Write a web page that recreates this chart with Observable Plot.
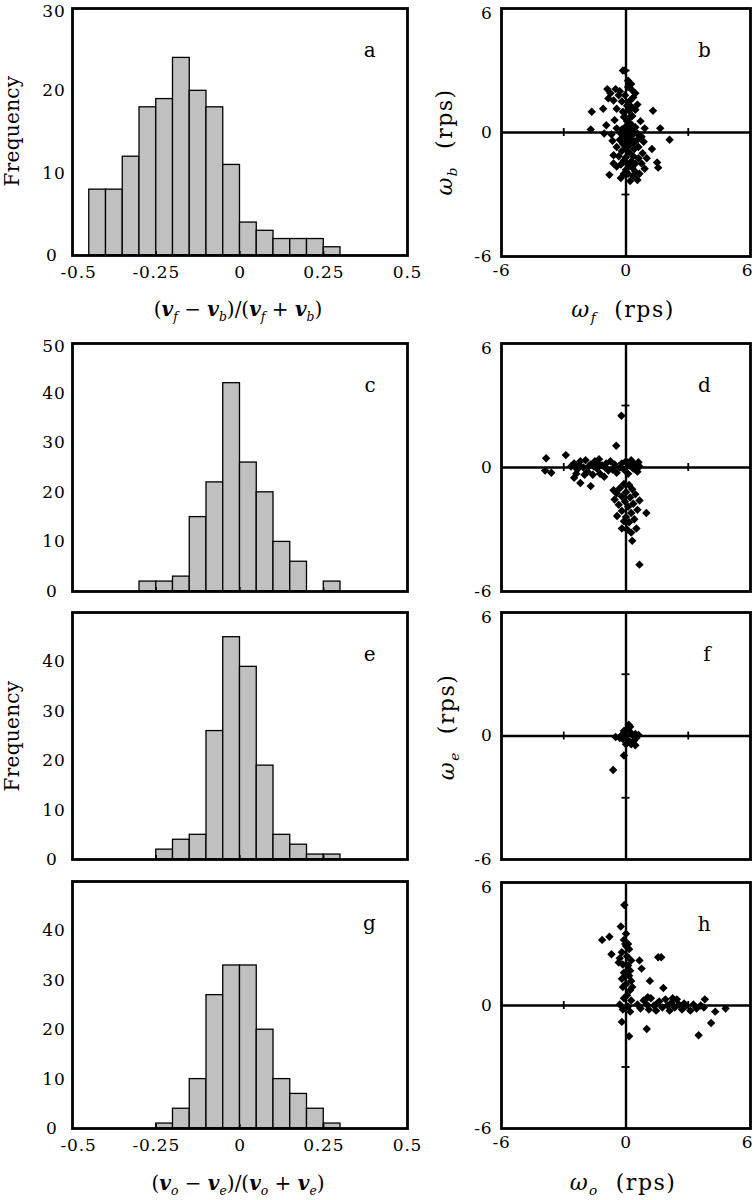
<!DOCTYPE html>
<html><head><meta charset="utf-8">
<script src="https://cdn.jsdelivr.net/npm/d3@7"></script>
<script src="https://cdn.jsdelivr.net/npm/@observablehq/plot@0.6"></script>
<style>
body{margin:0;background:#fff;}
#fig{position:relative;width:754px;height:1200px;overflow:hidden;font-family:"DejaVu Serif",serif;background:#fff;}
.lab{position:absolute;white-space:nowrap;color:#000;transform:translate(-50%,-50%);line-height:1;}
.rot{transform:translate(-50%,-50%) rotate(-90deg);}
.v{font-weight:bold;font-style:italic;}
.lab sub{font-size:0.62em;font-style:italic;vertical-align:-0.38em;line-height:0;}
</style></head><body><div id="fig"></div><script>
// ---------------- data ----------------
const binWidth = 0.05;
const histLowA = [-0.45,-0.40,-0.35,-0.30,-0.25,-0.20,-0.15,-0.10,-0.05,0.00,0.05,0.10,0.15,0.20,0.25];
const histCountA = [8,8,12,18,19,24,20,18,11,4,3,2,2,2,1];
const histLowC = [-0.30,-0.25,-0.20,-0.15,-0.10,-0.05,0.00,0.05,0.10,0.15,0.20,0.25];
const histCountC = [2,2,3,15,22,42,26,20,10,6,0,2];
const histLowE = [-0.25,-0.20,-0.15,-0.10,-0.05,0.00,0.05,0.10,0.15,0.20,0.25];
const histCountE = [2,4,5,26,45,39,19,5,3,1,1];
const histLowG = [-0.25,-0.20,-0.15,-0.10,-0.05,0.00,0.05,0.10,0.15,0.20,0.25];
const histCountG = [1,4,10,27,33,33,20,10,7,4,1];

const histXTicks = [-0.5,-0.25,0,0.25,0.5];
const yTicksA = [0,10,20,30];
const yTicksC = [0,10,20,30,40,50];
const yTicksEG = [0,10,20,30,40];
const scatTicks = [-6,0,6];
const crossTicks = [-3,3];

// omega_f vs omega_b
const ptsB = [[-0.15,3.0],[-0.05,3.0],[-0.9,2.1],[-0.5,2.1],[0.1,2.2],[0.3,2.05],[0.45,1.9],[-0.3,2.0],
[-0.85,1.65],[-0.6,1.55],[-0.2,1.5],[0.2,1.55],[0.35,1.7],[-0.05,1.8],[0.55,1.35],[0.05,1.3],
[-1.1,1.15],[-1.65,1.0],[-0.45,1.15],[0.15,1.05],[0.45,1.1],[1.3,1.05],[-0.15,1.0],
[-0.1,0.75],[0.3,0.8],[0.7,0.55],[-0.55,0.6],[0.05,0.55],
[-0.95,0.35],[-0.45,0.2],[0.0,0.3],[0.45,0.25],[0.9,0.2],[1.65,0.2],[-1.7,0.15],[0.25,0.4],[-0.2,0.15],
[-1.05,-0.05],[-0.7,-0.1],[-0.25,-0.05],[0.15,-0.1],[0.55,-0.05],[0.75,-0.2],[2.1,-0.35],[0.35,0.05],
[-0.65,-0.4],[-0.3,-0.35],[0.0,-0.3],[0.3,-0.35],[0.6,-0.3],[0.85,-0.45],[-0.15,-0.55],[0.2,-0.6],
[-0.45,-0.7],[0.6,-0.7],[0.0,-0.75],[0.4,-0.8],[1.25,-0.8],[-0.2,-0.9],[0.15,-0.95],[0.8,-1.0],
[-0.6,-1.1],[-0.35,-1.15],[0.0,-1.2],[0.35,-1.15],[0.6,-1.25],[1.0,-1.25],[-0.1,-1.35],[0.25,-1.4],
[-0.6,-1.5],[-0.25,-1.55],[0.1,-1.55],[0.45,-1.5],[0.75,-1.5],[1.5,-1.45],[1.55,-1.7],[-0.45,-1.65],[0.3,-1.7],[0.9,-1.75],[0.0,-1.8],
[-0.8,-2.05],[-0.25,-2.2],[0.1,-2.0],[0.35,-2.1],[0.55,-2.3],[0.2,-2.35],[-0.1,-2.0],[0.45,-1.9],[0.65,-2.0],
[0.2,0.2],[0.1,-0.45],[0.3,-0.15],[0.05,0.05],[-0.05,-0.2],[0.4,-0.5],[0.15,0.7],[0.25,1.25],[0.1,2.5],[0.25,2.35],[-0.75,1.9],[-0.35,1.8]];

// omega_f vs omega_b, second condition
const ptsD = [[-0.22,2.5],[-0.47,1.05],[-3.85,0.45],[-2.9,0.6],[-3.9,-0.15],[-3.6,-0.25],[-2.5,-0.5],[-2.2,-0.75],[-1.7,-0.9],
[-2.65,0.05],[-2.5,0.2],[-2.35,-0.1],[-2.2,0.3],[-2.05,0.0],[-1.95,0.35],[-1.85,-0.2],[-1.7,0.15],[-1.6,-0.35],[-1.5,0.3],[-1.4,-0.05],
[-1.3,0.4],[-1.25,-0.3],[-1.15,0.1],[-1.05,-0.45],[-0.95,0.2],[-0.85,-0.15],[-0.75,0.3],[-0.65,-0.1],[-0.55,0.15],[-0.45,-0.25],
[-2.4,-0.3],[-2.0,-0.35],[-1.55,0.05],[-1.0,0.0],[-1.35,0.2],[-1.8,0.05],[-2.25,0.1],
[-0.2,0.2],[-0.1,-0.1],[0.0,0.3],[0.15,0.1],[0.25,0.35],[0.35,-0.05],[0.45,0.15],[0.55,-0.2],[0.65,0.05],[-0.3,0.0],[0.1,-0.3],[0.3,0.2],[0.6,0.25],
[-0.1,-0.8],[0.15,-0.85],[-0.3,-1.0],[0.3,-1.05],[-0.6,-1.1],[-0.45,-1.25],[0.0,-1.2],[0.45,-1.3],[-0.2,-1.4],[0.2,-1.45],[0.65,-1.6],
[-0.55,-1.55],[-0.05,-1.65],[0.35,-1.75],[-0.35,-1.8],[0.1,-1.9],[0.55,-2.05],[-0.2,-2.1],[0.25,-2.2],[0.98,-2.2],[-0.43,-2.35],
[0.0,-2.4],[0.4,-2.5],[0.15,-2.65],[-0.2,-2.95],[0.05,-3.0],[0.25,-3.15],[0.3,-3.55],[0.65,-4.7],[0.5,-2.95],[-0.1,-2.6]];

// omega_o vs omega_e
const ptsF = [[0.13,0.55],[0.05,0.35],[-0.1,0.25],[0.2,0.2],[-0.2,0.05],[-0.5,-0.05],[0.0,0.0],[0.3,0.05],[0.45,0.1],[0.5,-0.1],
[0.35,-0.25],[0.1,-0.2],[-0.15,-0.15],[0.45,-0.45],[0.25,-0.4],[0.0,-0.4],[-0.1,-0.95],[-0.62,-1.65],[0.2,0.45],[-0.3,-0.1],[0.6,0.05]];

// omega_o vs omega_e, second condition
const ptsH = [[-0.08,4.9],[-0.25,3.85],[-1.15,3.2],[-0.8,3.35],[-0.1,3.2],[-0.7,2.5],[0.0,2.9],[-0.2,2.6],[0.15,2.75],[-0.3,2.3],
[0.05,2.4],[0.25,2.2],[-0.15,2.0],[0.1,1.95],[-0.35,2.1],[0.2,1.7],[-0.1,1.6],[0.15,1.45],[-0.2,1.3],[0.25,1.2],[0.0,1.05],
[-0.15,0.9],[0.2,0.75],[0.05,0.5],[-0.1,0.35],[0.25,0.25],[-0.3,0.05],[0.1,-0.05],[-0.15,-0.2],[0.2,-0.3],[-0.2,-0.8],[0.15,-1.5],
[0.0,3.5],[0.1,3.0],[-0.05,1.4],[0.3,0.9],
[0.65,2.2],[0.75,1.8],[1.55,2.35],[1.7,2.35],[1.15,1.2],[1.8,0.85],[1.0,-1.15],[3.5,-1.45],[4.1,-0.85],[4.3,-0.3],[4.8,-0.15],[3.8,0.3],
[0.55,0.05],[0.7,-0.15],[0.85,0.25],[1.0,0.05],[1.1,-0.2],[1.2,0.35],[1.35,0.0],[1.45,-0.25],[1.6,0.2],[1.75,-0.1],[1.9,0.3],
[2.0,0.0],[2.1,-0.25],[2.2,0.15],[2.35,-0.1],[2.45,0.3],[2.55,0.05],[2.7,-0.2],[2.9,0.0],[3.1,-0.25],[3.25,0.05],[3.4,-0.15],
[3.6,0.0],[3.75,-0.1],[1.05,0.4],[1.5,0.1],[2.25,0.35],[2.8,0.1]];

// ---------------- drawing ----------------
const fig = document.getElementById("fig");
const baseStyle = {background:"transparent", overflow:"visible", fontFamily:"DejaVu Serif, serif", fontSize:"17px", color:"black", letterSpacing:"0.8px"};
const FW = 2.8; // frame stroke
const fmt = d => String(d);

function place(el, left, top){ el.style.position="absolute"; el.style.left=left+"px"; el.style.top=top+"px"; fig.appendChild(el); }
function label(html, cx, cy, size, rot, ls){
  const d = document.createElement("div");
  d.className = "lab" + (rot ? " rot" : "");
  d.innerHTML = html; d.style.left = cx+"px"; d.style.top = cy+"px"; d.style.fontSize = size+"px";
  if (ls) d.style.letterSpacing = ls+"px";
  fig.appendChild(d);
}

function histogram(lows, counts, yMax, yTicks, showX, top, bottom, letter){
  const mL = 72, mR = 14, mT = 8, mB = 34;
  const data = lows.map((lo,i)=>({x1: lo, x2: lo + binWidth, n: counts[i]})).filter(d=>d.n>0);
  const tickLen = yMax * 4 / (bottom - top);
  const zeroT = yTicks.filter(t => t === 0);
  const topT = yTicks.filter(t => t === yMax);
  const midT = yTicks.filter(t => t !== 0 && t !== yMax);
  const axY = {tickSize: 0, tickPadding: 7, tickFormat: fmt, label: null};
  const p = Plot.plot({
    width: mL + 335 + mR, height: (bottom - top) + mT + mB,
    marginLeft: mL, marginRight: mR, marginTop: mT, marginBottom: mB,
    style: baseStyle,
    x: {domain: [-0.5, 0.5], axis: null},
    y: {domain: [0, yMax], axis: null},
    marks: [
      Plot.rectY(data, {x1:"x1", x2:"x2", y:"n", fill:"#c0c0c0", stroke:"black", strokeWidth:1.3}),
      Plot.ruleX(histXTicks.slice(1,-1), {y1: 0, y2: tickLen, stroke:"black", strokeWidth:1.3}),
      Plot.axisY(midT, axY),
      Plot.axisY(zeroT, {...axY, dx: -8}),
      Plot.axisY(topT, {...axY, dy: 3}),
      showX ? Plot.axisX(histXTicks.slice(0,1), {tickSize: 0, tickPadding: 10, tickFormat: fmt, label: null, dx: 6}) : null,
      showX ? Plot.axisX(histXTicks.slice(1), {tickSize: 0, tickPadding: 10, tickFormat: fmt, label: null}) : null,
      Plot.frame({stroke:"black", strokeWidth: FW}),
      Plot.text([letter], {frameAnchor:"top-right", dx:-31, dy:34, fontSize:20, text: d=>d})
    ]
  });
  place(p, 0, top - mT);
}

function scatter(pts, showX, top, bottom, letter){
  const mL = 40, mR = 5, mT = 8, mB = 30;
  const tk = 12 * 4 / (bottom - top);
  const axY = {tickSize: 0, tickPadding: 9, tickFormat: fmt, label: null};
  const axX = {tickSize: 0, tickPadding: 7, tickFormat: fmt, label: null};
  const p = Plot.plot({
    width: mL + 249 + mR, height: (bottom - top) + mT + mB,
    marginLeft: mL, marginRight: mR, marginTop: mT, marginBottom: mB,
    style: baseStyle,
    x: {domain: [-6, 6], axis: null},
    y: {domain: [-6, 6], axis: null},
    marks: [
      Plot.ruleX([0], {stroke:"black", strokeWidth:2.4}),
      Plot.ruleY([0], {stroke:"black", strokeWidth:2.4}),
      Plot.ruleX(crossTicks, {y1: -tk, y2: tk, stroke:"black", strokeWidth:1.8}),
      Plot.ruleY(crossTicks, {x1: -tk, x2: tk, stroke:"black", strokeWidth:1.8}),
      Plot.dot(pts, {x: d=>d[0], y: d=>d[1], symbol:"diamond2", r:3.8, fill:"black", strokeWidth:0}),
      Plot.axisY(scatTicks.slice(0,2), axY),
      Plot.axisY(scatTicks.slice(2), {...axY, dy: 5}),
      showX ? Plot.axisX(scatTicks.slice(0,2), axX) : null,
      showX ? Plot.axisX(scatTicks.slice(2), {...axX, dx: -3}) : null,
      Plot.frame({stroke:"black", strokeWidth: FW}),
      Plot.text([letter], {frameAnchor:"top-right", dx:-39, dy:34, fontSize:20, text: d=>d})
    ]
  });
  place(p, 501 - mL, top - mT);
}

histogram(histLowA, histCountA, 30, yTicksA, true, 8, 255, "a");
histogram(histLowC, histCountC, 50, yTicksC, false, 343, 591, "c");
histogram(histLowE, histCountE, 50, yTicksEG, false, 612, 859, "e");
histogram(histLowG, histCountG, 50, yTicksEG, true, 881, 1128, "g");
scatter(ptsB, true, 8, 256, "b");
scatter(ptsD, false, 343, 591, "d");
scatter(ptsF, false, 612, 859, "f");
scatter(ptsH, true, 882, 1128, "h");

// axis titles
const V = '<span class="v">v</span>';
label("Frequency", 12, 131, 20, true, 0.3);
label("Frequency", 12, 736, 20, true, 0.3);
label(`(${V}<sub>f</sub> − ${V}<sub>b</sub>)/(${V}<sub>f</sub> + ${V}<sub>b</sub>)`, 238, 309, 20);
label(`(${V}<sub>o</sub> − ${V}<sub>e</sub>)/(${V}<sub>o</sub> + ${V}<sub>e</sub>)`, 238, 1183, 20);
label('<i>ω</i><sub>f</sub>&nbsp;&nbsp;(rps)', 623, 310, 22, false, 1.5);
label('<i>ω</i><sub>o</sub>&nbsp;&nbsp;(rps)', 623, 1183, 22, false, 1.5);
label('<i>ω</i><sub>b</sub>&nbsp;&nbsp;(rps)', 445, 142, 22, true, 1.5);
label('<i>ω</i><sub>e</sub>&nbsp;&nbsp;(rps)', 447, 727, 22, true, 1.5);
</script></body></html>
